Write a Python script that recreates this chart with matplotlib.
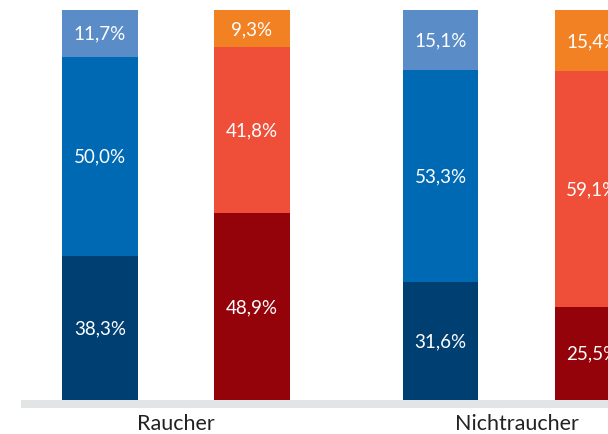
import matplotlib

matplotlib.use("Agg")
import matplotlib.pyplot as plt
import numpy as np

plt.rcParams["font.family"] = ["Lato", "DejaVu Sans"]

groups = ["Raucher", "Nichtraucher"]

# shares per bar, bottom to top (percent)
male_low = [38.3, 31.6]
male_mid = [50.0, 53.3]
male_top = [11.7, 15.1]
female_low = [48.9, 25.5]
female_mid = [41.8, 59.1]
female_top = [9.3, 15.4]

blue_colors = ["#003f72", "#0069b4", "#5a8cc8"]
red_colors = ["#94030a", "#ef4f38", "#f28124"]

fig = plt.figure(figsize=(6.08, 4.35), dpi=100)
W, H = 608, 435
ax = fig.add_axes([0, (H - 409) / H, 1, (409 - 11) / H])

px = 340.5  # pixels per group unit
x = np.arange(len(groups))
off = 76 / px
width = 75.5 / px
ax.set_xlim(-176 / px, (W - 176) / px)
ax.set_ylim(0, 100)
strip = 8 / 398 * 100


def stack(xpos, layers, colors):
    bottom = np.zeros(len(xpos))
    for vals, c in zip(layers, colors):
        vals = np.array(vals)
        ax.bar(xpos, vals, width, bottom=bottom, color=c, linewidth=0)
        for xi, b, v in zip(xpos, bottom, vals):
            lo = max(b, strip)
            ax.text(xi, (lo + b + v) / 2, f"{v:.1f}%".replace(".", ","),
                    ha="center", va="center", color="white", fontsize=13.5)
        bottom = bottom + vals


stack(x - off, [male_low, male_mid, male_top], blue_colors)
stack(x + off, [female_low, female_mid, female_top], red_colors)

# grey baseline strip over the bar feet
ax.axhspan(0, strip, xmin=21 / W, xmax=1, color="#e3e4e5", linewidth=0,
           zorder=3)

for xi, name in zip(x, groups):
    fig.text((176 + xi * px) / W, 1 - 424 / H, name, ha="center",
             va="center", fontsize=15.5, color="#222222")

ax.axis("off")
fig.savefig("out.png", dpi=100)
